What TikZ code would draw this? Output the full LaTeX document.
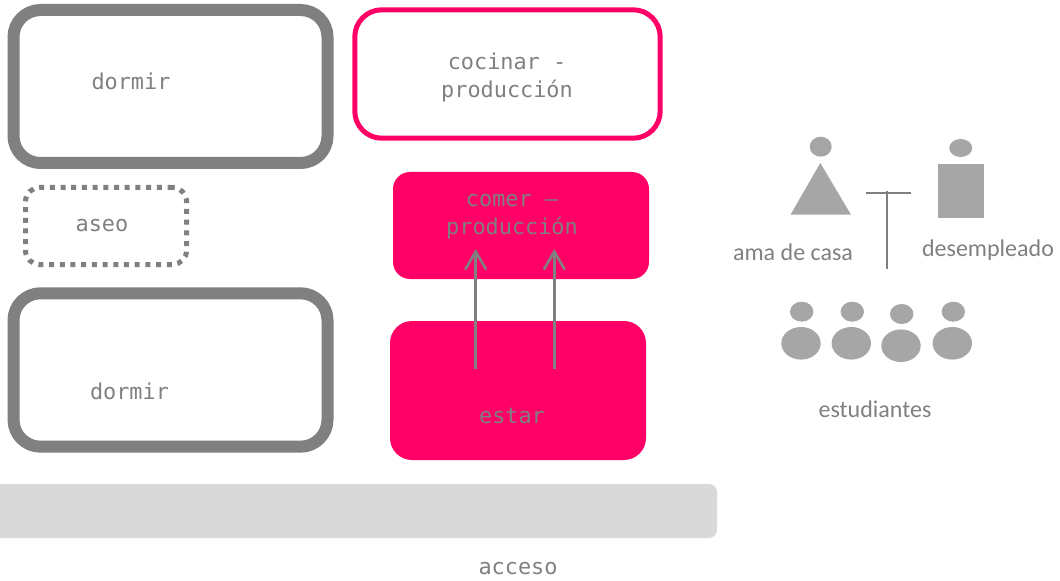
\documentclass[tikz,border=0pt]{standalone}
\usepackage{fontspec}
\setmainfont{Carlito}
\setmonofont{DejaVu Sans Mono}
\usetikzlibrary{arrows.meta,shapes.geometric}
\def\px{0.75pt}
\definecolor{linegray}{HTML}{808080}
\definecolor{figgray}{HTML}{A6A6A6}
\definecolor{bargray}{HTML}{D9D9D9}
\definecolor{hotpink}{HTML}{FF0066}
\tikzset{
  room/.style={rectangle, inner sep=0pt, outer sep=0pt},
  label/.style={inner sep=0pt, text=linegray, font=\fontsize{16.4pt}{21pt}\ttfamily, align=center},
  caption/.style={inner sep=0pt, text=linegray, font=\fontsize{18pt}{22pt}\selectfont},
  blob/.style={ellipse, fill=figgray, inner sep=0pt, outer sep=0pt},
  flow/.style={draw=linegray, line width=2.6*\px, -{Straight Barb[length=18*\px, width=21*\px]}},
  tbar/.style={draw=linegray, line width=2*\px}
}
\begin{document}
\begin{tikzpicture}[x=0.75pt, y=-0.75pt]
    \useasboundingbox (0, 0) rectangle (1060, 581);
    \node [room, draw=linegray, line width=12*\px, rounded corners=27*\px, minimum width=314*\px, minimum height=153*\px] (dormirtop) at (170.5, 86.5) {};
    \node [room, draw=linegray, line width=12*\px, rounded corners=27*\px, minimum width=314*\px, minimum height=153.4*\px] (dormirlow) at (170.5, 370) {};
    \node [room, draw=hotpink, line width=5*\px, rounded corners=27*\px, minimum width=305.4*\px, minimum height=128.4*\px] (cocinar) at (507.5, 74) {};
    \node [room, draw=linegray, line width=5*\px, dash pattern=on 5*\px off 5.7*\px, rounded corners=14*\px, minimum width=161*\px, minimum height=77*\px] (aseo) at (106, 226) {};
    \node [room, fill=hotpink, rounded corners=17*\px, minimum width=256*\px, minimum height=107*\px] (comer) at (521, 225.5) {};
    \node [room, fill=hotpink, rounded corners=22*\px, minimum width=256*\px, minimum height=139*\px] (estar) at (518, 390.5) {};
    \node [room, fill=bargray, rounded corners=8*\px, minimum width=737*\px, minimum height=54*\px] (pasillo) at (348.5, 511) {};

    \node [label] (tdormirtop) at (131, 81) {dormir};
    \node [label] (tdormirlow) at (129.5, 391) {dormir};
    \node [label] (tcocinar) at (507, 77) {cocinar -\\producción};
    \node [label] (taseo) at (102, 226) {aseo};
    \node [label] (tcomer) at (512, 217) {comer –\\producción};
    \node [label] (testar) at (512, 416) {estar};
    \node [label] (tacceso) at (518, 569) {acceso};

    \coordinate (a1) at (475.7, 369);
    \coordinate (a2) at (475.7, 249);
    \coordinate (b1) at (554.3, 369);
    \coordinate (b2) at (554.3, 249);
    \draw [flow] (a1) -- (a2);
    \draw [flow] (b1) -- (b2);

    \node [blob, minimum width=22*\px, minimum height=20*\px] (headama) at (820.7, 146.7) {};
    \fill [figgray] (820.3, 163) coordinate (apex) -- (851, 214.7) -- (790.5, 214.7) -- cycle;
    \node [blob, minimum width=23*\px, minimum height=18*\px] (headdes) at (960.7, 148) {};
    \node [room, fill=figgray, minimum width=46*\px, minimum height=54*\px] (bodydes) at (961, 191) {};

    \coordinate (t1) at (866, 193);
    \coordinate (t2) at (911, 193);
    \coordinate (t3) at (886.5, 191);
    \coordinate (t4) at (886.5, 269);
    \draw [tbar] (t1) -- (t2);
    \draw [tbar] (t3) -- (t4);

    \foreach \name/\hx/\hy/\bx/\by in {e1/801.7/311.7/801/343.3, e2/852.3/311.7/851.3/343.3, e3/901.7/314/901/345.7, e4/953.3/311.7/952.3/343.3} {
      \node [blob, minimum width=23.4*\px, minimum height=20*\px] (head\name) at (\hx, \hy) {};
      \node [blob, minimum width=39.4*\px, minimum height=32.6*\px] (body\name) at (\bx, \by) {};
    }

    \node [caption] (tama) at (793, 252) {ama de casa};
    \node [caption] (tdes) at (988, 250) {desempleado};
    \node [caption] (test) at (875, 409) {estudiantes};
\end{tikzpicture}
\end{document}
